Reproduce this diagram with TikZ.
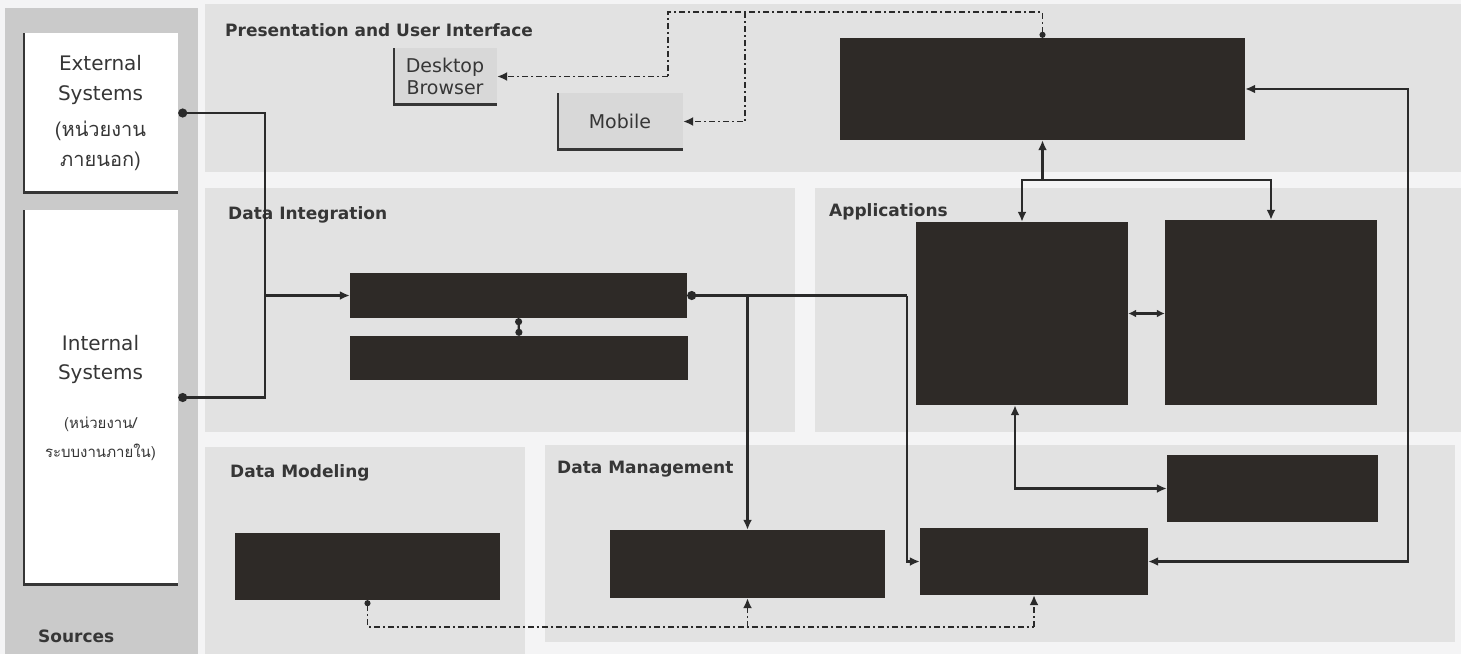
\documentclass[tikz,border=0pt]{standalone}
\usepackage{fontspec}
\setmainfont{DejaVu Sans}
\newfontfamily\thaifont[Script=Thai]{Loma}
\usetikzlibrary{arrows.meta}
\definecolor{pagebg}{HTML}{F4F4F5}
\definecolor{panelbg}{HTML}{E2E2E2}
\definecolor{srcbg}{HTML}{CACACA}
\definecolor{boxdark}{HTML}{2E2A27}
\definecolor{lightbox}{HTML}{D8D8D8}
\definecolor{ink}{HTML}{363636}
\definecolor{wire}{HTML}{2A2A2A}
\begin{document}
\begin{tikzpicture}[x=1pt,y=-1pt,
  panel/.style={fill=panelbg,draw=none},
  srcpanel/.style={fill=srcbg,draw=none},
  darkbox/.style={fill=boxdark,draw=none,inner sep=0pt},
  shadowed/.style={path picture={\draw[ink,line width=4.5pt]
      (path picture bounding box.north west) -- (path picture bounding box.south west)
      -- (path picture bounding box.south east);}},
  whitebox/.style={fill=white,draw=none,inner sep=0pt,align=center,text=ink,shadowed},
  greybox/.style={fill=lightbox,draw=none,inner sep=0pt,align=center,text=ink,shadowed,
      font=\fontsize{19}{22}\selectfont},
  title/.style={anchor=west,inner sep=0pt,text=ink,font=\bfseries\fontsize{17}{20}\selectfont},
  conn/.style={draw=wire,line width=2.2pt},
  dashdot/.style={draw=wire,line width=1.8pt,dash pattern=on 6pt off 3pt on 2pt off 3pt},
  tip/.style={-{Latex[length=10pt,width=9pt]}},
  rtip/.style={{Latex[length=10pt,width=9pt]}-},
  btip/.style={{Latex[length=10pt,width=9pt]}-{Latex[length=10pt,width=9pt]}},
  dot/.style={{Circle[length=9pt]}-}
]
\useasboundingbox (0,0) rectangle (1461,654);
\fill[pagebg] (0,0) rectangle (1461,654);

% panels
\fill[srcpanel] (5,8) rectangle (198,654);
\fill[panel] (205,4) rectangle (1461,172);
\fill[panel] (205,188) rectangle (795,432);
\fill[panel] (815,188) rectangle (1461,432);
\fill[panel] (205,447) rectangle (525,654);
\fill[panel] (545,445) rectangle (1455,642);

% panel titles
\node[title] (tsrc) at (38,636) {Sources};
\node[title] (tpres) at (225,30) {Presentation and User Interface};
\node[title] (tint) at (228,215) {Data Integration};
\node[title] (tapp) at (829,212) {Applications};
\node[title] (tmod) at (230,473) {Data Modeling};
\node[title] (tman) at (557,469) {Data Management};

% source boxes
\node[whitebox,minimum width=155pt,minimum height=160pt,font=\fontsize{20}{30}\selectfont] (ext) at (100.5,113)
  {External\\Systems\\[6pt]
   \thaifont\fontsize{20}{25}\selectfont (หน่วยงาน\\\thaifont\fontsize{20}{25}\selectfont ภายนอก)};
\node[whitebox,minimum width=155pt,minimum height=375pt,font=\fontsize{20}{29}\selectfont] (int) at (100.5,397.5)
  {Internal\\Systems\\[20pt]
   \thaifont\fontsize{15}{17}\selectfont (หน่วยงาน/\\\thaifont\fontsize{15}{17}\selectfont ระบบงานภายใน)};

% presentation boxes
\node[greybox,minimum width=104pt,minimum height=57pt] (desk) at (445,76.5) {Desktop\\Browser};
\node[greybox,minimum width=126pt,minimum height=57pt] (mob) at (620,121.5) {Mobile};

% dark boxes
\node[darkbox,minimum width=405pt,minimum height=102pt] (portal) at (1042.5,89) {};
\node[darkbox,minimum width=212pt,minimum height=183pt] (app1) at (1022,313.5) {};
\node[darkbox,minimum width=212pt,minimum height=185pt] (app2) at (1271,312.5) {};
\node[darkbox,minimum width=211pt,minimum height=67pt] (app3) at (1272.5,488.5) {};
\node[darkbox,minimum width=228pt,minimum height=67pt] (db) at (1034,561.5) {};
\node[darkbox,minimum width=337pt,minimum height=45pt] (etl) at (518.5,295.5) {};
\node[darkbox,minimum width=338pt,minimum height=44pt] (etl2) at (519,358) {};
\node[darkbox,minimum width=265pt,minimum height=67pt] (model) at (367.5,566.5) {};
\node[darkbox,minimum width=275pt,minimum height=68pt] (mgmt) at (747.5,564) {};

% sources -> ETL
\coordinate (j1) at (265,295.5);
\draw[conn,dot] (ext.east) -| (j1);
\draw[conn,dot] (int.east) -| (j1);
\draw[conn,tip] (j1) -- (etl.west);
\draw[conn,{Circle[length=7pt]}-{Circle[length=7pt]}] (etl.south) -- (etl2.north);

% ETL -> management / db
\coordinate (e1) at (907,295.5);
\coordinate (b1) at (747.5,295.5);
\draw[conn,dot] (etl.east) -- (e1);
\draw[conn,tip] (e1) |- (db.west);
\draw[conn,tip] (b1) -- (mgmt.north);

% portal <-> applications
\coordinate (t1) at (1042.5,180);
\draw[conn,rtip] (portal.south) -- (t1);
\draw[conn,tip] (t1) -| (app1.north);
\draw[conn,tip] (t1) -| (app2.north);
\draw[conn,{Latex[length=8pt,width=8pt]}-{Latex[length=8pt,width=8pt]}] (app1.east) -- (app1.east -| app2.west);
\draw[conn,btip] ([xshift=-7pt]app1.south) |- (app3.west);

% right loop
\coordinate (r1) at (1408,89);
\coordinate (r2) at (1408,561.5);
\draw[conn,btip] (portal.east) -- (r1) -- (r2) -- (db.east);

% presentation dash-dot links
\coordinate (p0) at (1042.5,12);
\coordinate (p1) at (668,12);
\coordinate (p2) at (668,76.5);
\coordinate (p3) at (745,12);
\coordinate (p4) at (745,121.5);
\draw[dashdot,{Circle[length=6pt]}-] (portal.north) -- (p0) -- (p1) -- (p2);
\draw[dashdot,tip] (p2) -- (desk.east);
\draw[dashdot,tip] (p3) -- (p4) -- (mob.east);

% bottom dash-dot links
\coordinate (q1) at (367.5,627);
\coordinate (q2) at (1034,627);
\coordinate (q3) at (747.5,627);
\draw[dashdot,{Circle[length=6pt]}-] (model.south) -- (q1) -- (q2);
\draw[dashdot,tip] (q2) -- (db.south);
\draw[dashdot,tip] (q3) -- (mgmt.south);
\end{tikzpicture}
\end{document}
